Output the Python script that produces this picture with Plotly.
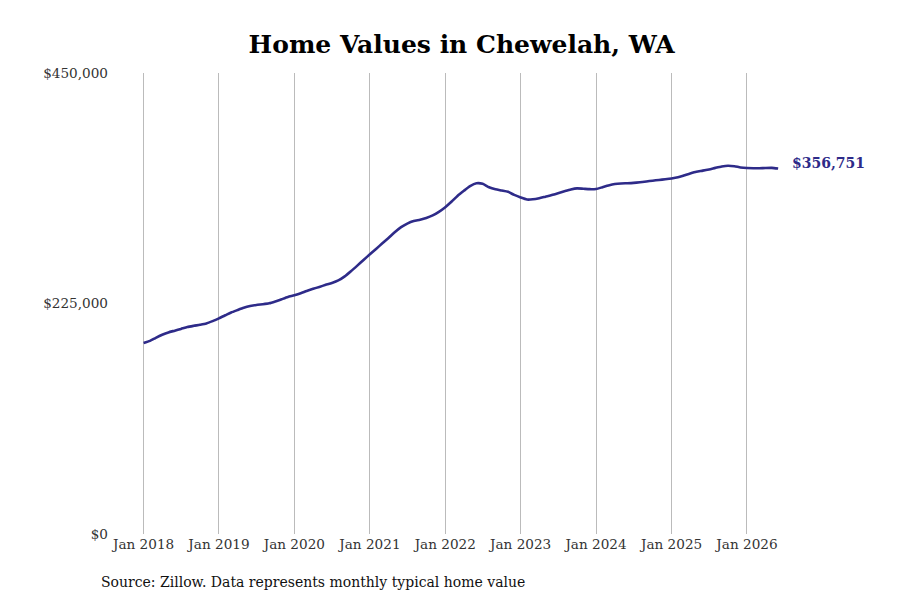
import plotly.graph_objects as go
import pandas as pd

dates = pd.date_range("2018-01-01", "2026-06-01", freq="MS")

values = [
    186400, 188500, 191500, 194500, 196800, 198500, 200200, 202000, 203200, 204200, 205500, 207800,
    210500, 213500, 216200, 218600, 220800, 222500, 223600, 224300, 225200, 227000, 229200, 231300,
    233000, 235000, 237200, 239300, 241200, 243200, 245000, 247500, 251500, 256500, 262000, 267500,
    273000, 278500, 283500, 289000, 294500, 299500, 303000, 305500, 306800, 308500, 311000, 314500,
    319000, 324500, 330000, 335000, 339500, 342300, 341800, 338500, 336500, 335300, 334000, 331000,
    328500, 326500, 326700, 327800, 329300, 330800, 332600, 334500, 336300, 337400, 337000, 336600,
    336800, 338500, 340200, 341600, 342200, 342400, 342700, 343300, 344100, 344900, 345600, 346300,
    347100, 348200, 349900, 351900, 353600, 354700, 355900, 357400, 358800, 359500, 359000, 357800,
    357200, 357000, 357000, 357300, 357400, 356751,
]

y_tickvals = [0, 225000, 450000]
y_ticktext = ["$0", "$225,000", "$450,000"]

title_text = "Home Values in Chewelah, WA"
source_text = "Source: Zillow. Data represents monthly typical home value"
last_label = "${:,}".format(values[-1])

line_color = "#2e2b89"
serif = "DejaVu Serif"

fig = go.Figure()
fig.add_trace(go.Scatter(
    x=dates, y=values, mode="lines",
    line=dict(color=line_color, width=2.6, shape="spline", smoothing=0.6),
    hoverinfo="skip", showlegend=False,
))

fig.add_annotation(
    x=dates[-1], y=values[-1], xref="x", yref="y",
    text="<b>" + last_label + "</b>", showarrow=False,
    xanchor="left", yanchor="middle", xshift=12, yshift=6,
    font=dict(family=serif, size=14, color=line_color),
)

fig.add_annotation(
    x=-0.0195, y=-0.104, xref="paper", yref="paper",
    text=source_text, showarrow=False, xanchor="left", yanchor="middle",
    font=dict(family=serif, size=14, color="#111111"),
)

fig.update_layout(
    width=900, height=600,
    margin=dict(l=104, r=128, t=65, b=74),
    paper_bgcolor="white", plot_bgcolor="white",
    title=dict(
        text="<b>" + title_text + "</b>", x=0.504, y=0.94,
        xanchor="center", yanchor="middle", xref="container", yref="container",
        font=dict(family=serif, size=25, color="#000000"),
    ),
    font=dict(family=serif, size=13.6, color="#333333"),
)

fig.update_xaxes(
    range=["2017-08-01", "2026-06-10"],
    tickformat="%b %Y", dtick="M12", tick0="2018-01-01",
    showgrid=True, gridcolor="#bbbbbb", gridwidth=1,
    showline=False, zeroline=False, ticks="",
    tickfont=dict(family=serif, size=13.6, color="#333333"),
)
fig.update_yaxes(
    range=[0, 450000], tickvals=y_tickvals, ticktext=y_ticktext,
    showgrid=False, zeroline=False, showline=False, ticks="",
    ticklabelstandoff=3,
    tickfont=dict(family=serif, size=13.6, color="#333333"),
)

fig.write_html("out.html")
